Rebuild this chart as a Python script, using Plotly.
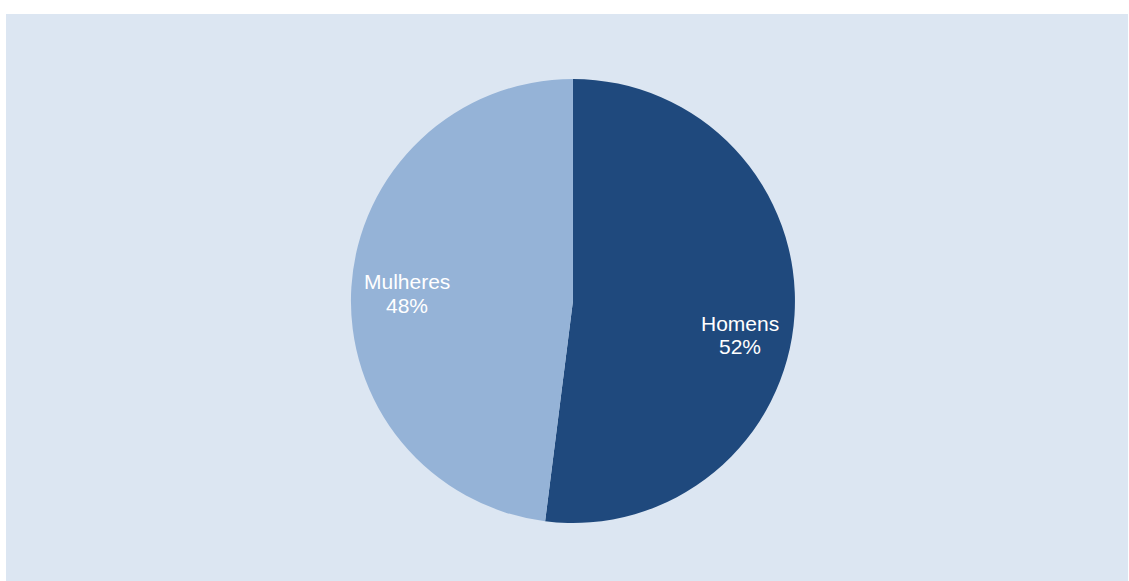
import plotly.graph_objects as go

categories = ["Homens", "Mulheres"]
shares = [52, 48]
colors = ["#1f497d", "#95b3d7"]

# label anchor points (paper coords) for each slice: name line, value line
label_x = [0.6542, 0.3575]
name_y = [0.4550, 0.5280]
value_y = [0.4135, 0.4865]

W, H = 1129, 581
ml, mr, mt, mb = 6, 1, 14, 0
FONT = "Liberation Sans, Arial, sans-serif"

fig = go.Figure(
    go.Pie(
        labels=categories,
        values=shares,
        sort=False,
        direction="clockwise",
        rotation=0,
        marker=dict(colors=colors, line=dict(width=0)),
        textinfo="none",
        hoverinfo="label+percent",
        showlegend=False,
        domain=dict(x=[0.2053, 0.8053], y=[0.1023, 0.8854]),
    )
)

annotations = []
for cat, val, x, yn, yv in zip(categories, shares, label_x, name_y, value_y):
    for txt, y in ((cat, yn), (f"{val}%", yv)):
        annotations.append(
            dict(
                text=txt, x=x, y=y, xref="paper", yref="paper",
                xanchor="center", yanchor="middle", showarrow=False,
                font=dict(family=FONT, size=21, color="white"),
            )
        )

fig.update_layout(
    width=W,
    height=H,
    margin=dict(l=ml, r=mr, t=mt, b=mb),
    paper_bgcolor="white",
    annotations=annotations,
    shapes=[
        dict(
            type="rect", xref="paper", yref="paper",
            x0=0, x1=1, y0=0, y1=1,
            fillcolor="#dce6f2", line=dict(width=0), layer="below",
        )
    ],
)

fig.write_html("out.html")
